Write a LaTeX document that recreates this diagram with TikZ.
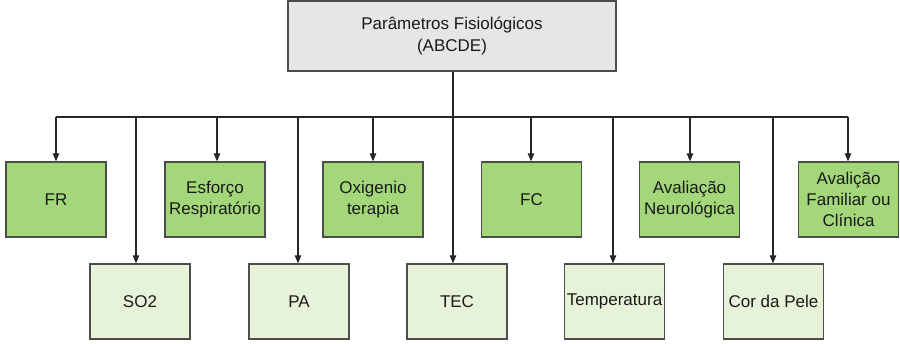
\documentclass[tikz,border=0pt]{standalone}
\usepackage{fontspec}
\setmainfont{Liberation Sans}
\usetikzlibrary{arrows.meta}
\definecolor{boxline}{HTML}{4D4D4D}
\definecolor{topfill}{HTML}{E6E6E6}
\definecolor{darkgreen}{HTML}{A3D77A}
\definecolor{lightgreen}{HTML}{E6F3D9}
\definecolor{txt}{HTML}{1A1A1A}
\tikzset{
  base/.style={draw=boxline, line width=1.3pt, rectangle, align=center,
    text=txt, font=\fontsize{17}{21}\selectfont, inner sep=0pt},
  topbox/.style={base, fill=topfill, minimum width=328pt, minimum height=70pt},
  upbox/.style={base, fill=darkgreen, minimum width=100pt, minimum height=75pt},
  lowbox/.style={base, fill=lightgreen, minimum width=100pt, minimum height=75pt},
  conn/.style={draw=black!85, line width=1.1pt},
  arr/.style={conn, -{Triangle[width=6.5pt,length=8pt]}}
}
\begin{document}
\begin{tikzpicture}[x=1pt,y=-1pt]
\useasboundingbox (0,0) rectangle (900,343);
\node[topbox] (top) at (452,36) {Parâmetros Fisiológicos\\(ABCDE)};
% upper row
\node[upbox] (fr)  at (56,199.5) {FR};
\node[upbox] (esf) at (215,199.5) {Esforço\\Respiratório};
\node[upbox] (oxi) at (373,199.5) {Oxigenio\\terapia};
\node[upbox] (fc)  at (531.5,199.5) {FC};
\node[upbox] (neu) at (689.5,199.5) {Avaliação\\Neurológica};
\node[upbox] (fam) at (848.5,199.5) {Avalição\\Familiar ou\\Clínica};
% lower row
\node[lowbox] (so2) at (140,301.5) {SO2};
\node[lowbox] (pa)  at (299,301.5) {PA};
\node[lowbox] (tec) at (457,301.5) {TEC};
\node[lowbox] (tem) at (614.5,301.5) {Temperatura};
\node[lowbox] (cor) at (773.5,301.5) {Cor da Pele};
% bus coordinates
\coordinate (trunk) at (453,117);
\coordinate (b1) at (56,117);
\coordinate (b2) at (136,117);
\coordinate (b3) at (217,117);
\coordinate (b4) at (298,117);
\coordinate (b5) at (373,117);
\coordinate (b6) at (531,117);
\coordinate (b7) at (613,117);
\coordinate (b8) at (690,117);
\coordinate (b9) at (773,117);
\coordinate (b10) at (848,117);
\draw[conn] (top.south -| trunk) -- (trunk);
\draw[conn] (b1) -- (b10);
\draw[arr] (b1) -- (b1 |- fr.north);
\draw[arr] (b2) -- (b2 |- so2.north);
\draw[arr] (b3) -- (b3 |- esf.north);
\draw[arr] (b4) -- (b4 |- pa.north);
\draw[arr] (b5) -- (b5 |- oxi.north);
\draw[arr] (trunk) -- (trunk |- tec.north);
\draw[arr] (b6) -- (b6 |- fc.north);
\draw[arr] (b7) -- (b7 |- tem.north);
\draw[arr] (b8) -- (b8 |- neu.north);
\draw[arr] (b9) -- (b9 |- cor.north);
\draw[arr] (b10) -- (b10 |- fam.north);
\end{tikzpicture}
\end{document}
